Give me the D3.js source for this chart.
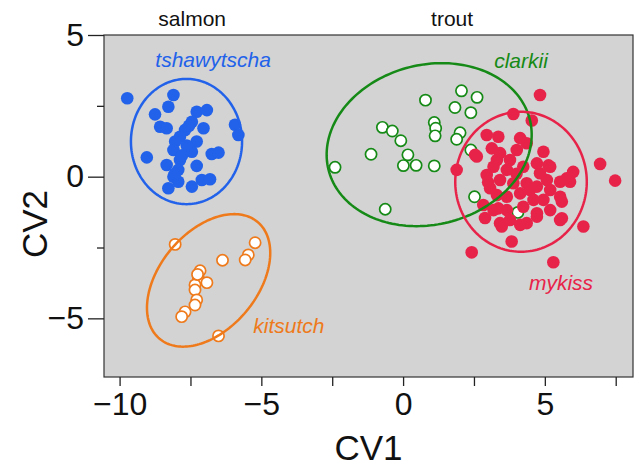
<!DOCTYPE html>
<html><head><meta charset="utf-8">
<script src="https://cdn.jsdelivr.net/npm/d3@7"></script>
<style>body{margin:0;background:#fff}svg{display:block}text{font-family:"Liberation Sans",Arial,sans-serif}</style>
</head><body>
<svg id="c" width="634" height="469"></svg>
<script>
// ---- data ----
const xTicks = [-10, -7.5, -5, -2.5, 0, 2.5, 5, 7.5];
const yTicks = [-5, -2.5, 0, 2.5, 5];
const groupLabels = [{text:"salmon", x:-7.44}, {text:"trout", x:1.73}];

const tshawytscha = [[-9.73,2.77],[-8.10,2.88],[-8.28,2.47],[-8.75,2.20],[-8.57,1.76],[-8.34,1.71],[-7.28,2.29],[-6.92,2.35],[-7.45,1.94],[-7.04,1.71],[-7.69,1.65],[-7.87,1.41],[-8.04,1.24],[-7.28,1.24],[-5.93,1.83],[-5.81,1.47],[-8.10,0.94],[-7.45,0.88],[-6.75,0.80],[-6.51,0.85],[-9.04,0.68],[-7.87,0.59],[-8.34,0.41],[-7.28,0.38],[-7.93,0.24],[-8.10,0.00],[-7.93,-0.18],[-7.10,-0.12],[-6.81,-0.09],[-7.45,-0.35],[-8.28,-0.41],[-7.63,1.10],[-7.80,0.75],[-7.55,1.80],[-8.05,0.10]];
const kitsutch = [[-8.04,-2.39],[-5.22,-2.33],[-5.46,-2.76],[-5.57,-2.94],[-6.37,-2.95],[-7.16,-3.32],[-7.22,-3.59],[-6.92,-3.74],[-7.34,-3.82],[-7.34,-4.00],[-7.28,-4.35],[-7.34,-4.53],[-7.69,-4.77],[-7.81,-4.94],[-6.51,-5.62],[-7.25,-3.45]];
const clarkii = [[-2.40,0.33],[-0.63,-1.15],[-1.13,0.79],[-0.73,1.74],[-0.38,1.61],[-0.08,1.27],[0.17,0.77],[0.01,0.39],[0.46,0.40],[1.10,0.38],[0.79,2.70],[1.10,1.91],[1.15,1.71],[1.13,1.44],[2.06,3.03],[2.61,2.80],[1.83,2.44],[2.39,2.26],[2.01,1.55],[1.89,1.32],[2.39,0.94],[2.52,-0.71],[4.05,-1.26]];
const mykiss = [[4.83,2.88],[3.89,2.21],[4.54,1.98],[2.95,1.47],[3.36,1.41],[4.13,1.36],[4.36,1.18],[3.13,1.00],[2.60,0.71],[1.89,0.24],[4.95,0.88],[3.31,0.59],[6.95,0.45],[7.48,-0.14],[5.89,-0.18],[3.07,-0.41],[5.60,-0.88],[2.83,-1.00],[3.36,-1.12],[5.60,-1.47],[6.36,-1.76],[3.48,-1.76],[4.13,-1.70],[4.72,-1.41],[3.83,-2.29],[2.42,-2.67],[5.30,-3.02],[3.42,0.83],[3.66,0.24],[4.24,0.35],[4.72,0.47],[5.19,0.35],[4.83,0.12],[5.54,-0.18],[5.77,-0.06],[3.42,-0.12],[3.89,-0.23],[4.36,-0.23],[4.72,-0.35],[5.19,-0.47],[5.54,-0.71],[3.66,-0.71],[4.13,-0.59],[4.60,-0.82],[4.95,-0.82],[3.19,-1.18],[3.66,-1.18],[4.24,-1.06],[4.72,-1.29],[5.19,-1.18],[3.42,-1.64],[3.77,-1.53],[4.36,-1.64],[5.54,-1.53],[2.54,0.77],[3.19,0.35],[4.01,0.94],[3.77,0.59],[2.95,0.06],[3.31,-0.65],[2.89,-1.46],[5.07,-0.12],[4.48,-0.47],[6.00,0.17],[5.13,0.40],[3.00,-0.20],[4.00,0.10]];

// ellipse: [cx, cy, semi-axis a, semi-axis b, angle deg]
const ellTshawytscha = [-7.64, 1.24, 1.96, 2.21, 0];
const ellKitsutch = [-6.86, -3.66, 2.69, 1.72, 50];
const ellClarkii = [0.92, 1.13, 3.66, 2.82, 14];
const ellMykiss = [4.16, -0.18, 2.32, 2.47, 0];

const species = [
  {name:"tshawytscha", pts:tshawytscha, ell:ellTshawytscha, color:"#2262ea", filled:true, lx:-6.70, ly:3.87},
  {name:"kitsutch", pts:kitsutch, ell:ellKitsutch, color:"#ee7a1c", filled:false, lx:-4.03, ly:-5.52},
  {name:"clarkii", pts:clarkii, ell:ellClarkii, color:"#168a16", filled:false, lx:4.16, ly:3.83},
  {name:"mykiss", pts:mykiss, ell:ellMykiss, color:"#e8234a", filled:true, lx:5.57, ly:-4.0}
];

// ---- chart ----
const svg = d3.select("#c");
const mL=104, mR=633, mT=35, mB=377;
const x = d3.scaleLinear().domain([-10.55, 8.11]).range([mL, mR]);
const y = d3.scaleLinear().domain([-7.07, 5]).range([mB, mT]);

svg.append("rect").attr("x",mL).attr("y",mT).attr("width",mR-mL).attr("height",mB-mT)
  .attr("fill","#d3d3d3").attr("stroke","#333").attr("stroke-width",1.2);

const fmt = d => Number.isInteger(d) ? d3.format("")(d) : "";
const xa = svg.append("g").attr("transform",`translate(0,${mB})`)
  .call(d3.axisBottom(x).tickValues(xTicks).tickFormat(fmt).tickSize(9).tickPadding(6));
xa.select(".domain").remove();
xa.selectAll("text").attr("font-size",32).attr("fill","#111").attr("font-family","Liberation Sans, Arial, sans-serif");
xa.selectAll("line").attr("stroke","#222").attr("stroke-width",1.3);

const ya = svg.append("g").attr("transform",`translate(${mL},0)`)
  .call(d3.axisLeft(y).tickValues(yTicks).tickFormat(fmt).tickSize(0).tickPadding(20));
ya.select(".domain").remove();
ya.selectAll("text").attr("font-size",32).attr("fill","#111").attr("font-family","Liberation Sans, Arial, sans-serif");
ya.selectAll(".tick").append("line").attr("x1",d=>Number.isInteger(d)?-16:-7).attr("x2",0)
  .attr("stroke","#222").attr("stroke-width",1.3);

svg.append("text").attr("x",(mL+mR)/2).attr("y",460).attr("text-anchor","middle")
  .attr("font-size",35).attr("fill","#111").text("CV1");
svg.append("text").attr("transform",`translate(47,224) rotate(-90)`).attr("text-anchor","middle")
  .attr("font-size",35).attr("fill","#111").text("CV2");

svg.selectAll(".grp").data(groupLabels).join("text").attr("x",d=>x(d.x)).attr("y",26)
  .attr("text-anchor","middle").attr("font-size",21).attr("fill","#111").text(d=>d.text);

// points
species.forEach(s=>{
  svg.append("g").selectAll("circle").data(s.pts).join("circle")
    .attr("cx",d=>x(d[0])).attr("cy",d=>y(d[1])).attr("r",s.filled?6.3:5.6)
    .attr("fill",s.filled?s.color:"#fff")
    .attr("stroke",s.color).attr("stroke-width",s.filled?0:1.7);
});

// ellipses
const line = d3.line().x(d=>x(d[0])).y(d=>y(d[1]));
species.forEach(s=>{
  const [cx,cy,a,b,ang] = s.ell;
  const t = ang*Math.PI/180;
  const pts = d3.range(0, 361, 2).map(k=>{
    const u = k*Math.PI/180;
    const ex = a*Math.cos(u), ey = b*Math.sin(u);
    return [cx + ex*Math.cos(t) - ey*Math.sin(t), cy + ex*Math.sin(t) + ey*Math.cos(t)];
  });
  svg.append("path").attr("d",line(pts)).attr("fill","none").attr("stroke",s.color).attr("stroke-width",2.5);
});

// species labels
svg.selectAll(".sp").data(species).join("text").attr("x",d=>x(d.lx)).attr("y",d=>y(d.ly))
  .attr("text-anchor","middle").attr("font-size",21).attr("font-style","italic")
  .attr("fill",d=>d.color).text(d=>d.name);
</script>
</body></html>
